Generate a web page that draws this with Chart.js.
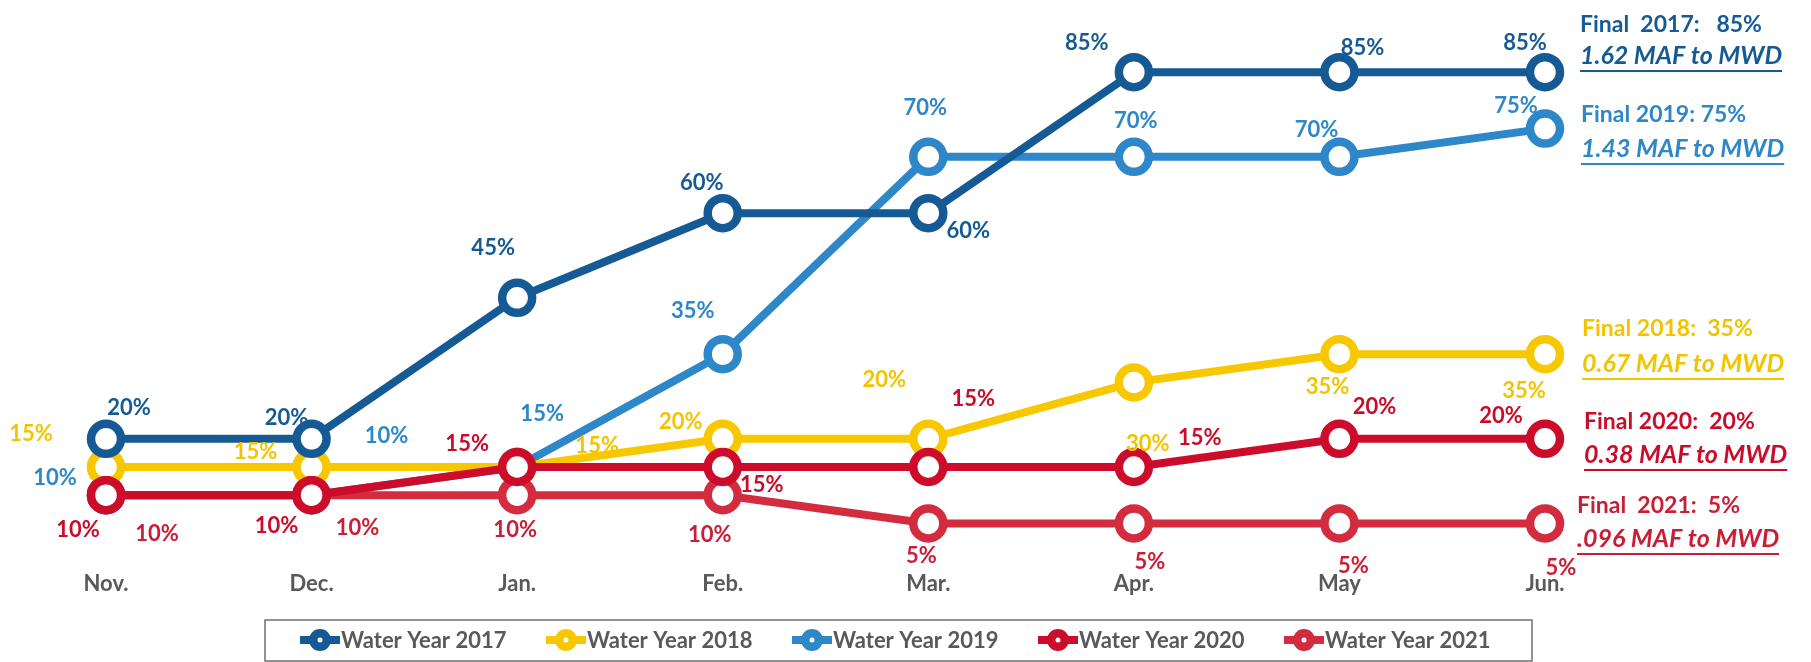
<!DOCTYPE html>
<html>
<head>
<meta charset="utf-8">
<script src="https://cdn.jsdelivr.net/npm/chart.js@4"></script>
<style>
  html, body { margin: 0; padding: 0; background: #fff; }
  #wrap { width: 1811px; height: 662px; position: relative; }
</style>
</head>
<body>
<div id="wrap"><canvas id="allocationChart"></canvas></div>
<script>
const months = ['Nov.', 'Dec.', 'Jan.', 'Feb.', 'Mar.', 'Apr.', 'May', 'Jun.'];
const wy2017 = [20, 20, 45, 60, 60, 85, 85, 85];
const wy2018 = [15, 15, 15, 20, 20, 30, 35, 35];
const wy2019 = [10, 10, 15, 35, 70, 70, 70, 75];
const wy2020 = [10, 10, 15, 15, 15, 15, 20, 20];
const wy2021 = [10, 10, 10, 10, 5, 5, 5, 5];
const seriesNames = ['Water Year 2017', 'Water Year 2018', 'Water Year 2019', 'Water Year 2020', 'Water Year 2021'];
const finalLines = ['Final  2017:   85%', 'Final 2018:  35%', 'Final 2019: 75%', 'Final 2020:  20%', 'Final  2021:  5%'];
const mafLines = ['1.62 MAF to MWD', '0.67 MAF to MWD', '1.43 MAF to MWD', '0.38 MAF to MWD', '.096 MAF to MWD'];

// colours and label placement (style only)
const colors = ['#155a94', '#f7c800', '#2e87c8', '#cc0c2a', '#d22c3e'];
const labelColors = ['#155a94', '#f2c400', '#2e87c8', '#c80c2a', '#c81e36'];
const drawOrder = [1, 4, 5, 2, 3];
const labelOffsets = [
    [[23, -31], [-25, -21], [-24, -50], [-21, -30], [40, 18], [-47, -29], [23, -24], [-20, -29]],
    [[-75, -33], [-56, -15], [80, -21], [-42, -17], [-44, -59], [14, 62], [-12, 33], [-21, 37]],
    [[-51, -17], [75, -59], [25, -53], [-30, -43], [-3, -49], [2, -36], [-23, -27], [-29, -23]],
    [[-28, 35], [-35, 31], [-50, -23], [39, 18], [45, -68], [66, -29], [35, -32], [-44, -23]],
    [[51, 39], [46, 33], [-2, 35], [-13, 40], [-7, 33], [16, 39], [14, 43], [16, 45]]
];
const notePos = [
    { x: 1580, y1: 25, y2: 56 },
    { x: 1582, y1: 329, y2: 364 },
    { x: 1581, y1: 115, y2: 149 },
    { x: 1584, y1: 422, y2: 455 },
    { x: 1577, y1: 506, y2: 539 }
];

const FONT = 'Lato, "Open Sans", sans-serif';
const allSeries = [wy2017, wy2018, wy2019, wy2020, wy2021];

const pointLabels = {
    id: 'pointLabels',
    afterDatasetsDraw(chart) {
        const ctx = chart.ctx;
        ctx.save();
        ctx.font = 'bold 22px ' + FONT;
        ctx.textAlign = 'center';
        ctx.textBaseline = 'middle';
        chart.data.datasets.forEach((ds, i) => {
            const meta = chart.getDatasetMeta(i);
            ctx.fillStyle = labelColors[i];
            meta.data.forEach((pt, j) => {
                const off = labelOffsets[i][j];
                ctx.fillText(ds.data[j] + '%', pt.x + off[0], pt.y + off[1]);
            });
        });
        ctx.restore();
    }
};

const sideNotes = {
    id: 'sideNotes',
    afterDraw(chart) {
        const ctx = chart.ctx;
        ctx.save();
        ctx.textAlign = 'left';
        ctx.textBaseline = 'middle';
        finalLines.forEach((txt, i) => {
            const p = notePos[i];
            ctx.fillStyle = labelColors[i];
            ctx.font = 'bold 23px ' + FONT;
            ctx.fillText(txt, p.x, p.y1);
            ctx.font = 'italic bold 25px ' + FONT;
            ctx.fillText(mafLines[i], p.x, p.y2);
            const w = ctx.measureText(mafLines[i]).width;
            ctx.fillRect(p.x, p.y2 + 14, w, 2);
        });
        ctx.restore();
    }
};

const boxLegend = {
    id: 'boxLegend',
    afterDraw(chart) {
        const ctx = chart.ctx;
        ctx.save();
        ctx.strokeStyle = '#6f6f6f';
        ctx.lineWidth = 1.5;
        ctx.strokeRect(265, 620, 1267, 41);
        ctx.font = 'bold 22px ' + FONT;
        ctx.textAlign = 'left';
        ctx.textBaseline = 'middle';
        const cy = 640;
        seriesNames.forEach((name, i) => {
            const cx = 320 + i * 246;
            ctx.strokeStyle = colors[i];
            ctx.lineWidth = 8;
            ctx.beginPath();
            ctx.moveTo(cx - 20, cy);
            ctx.lineTo(cx + 20, cy);
            ctx.stroke();
            ctx.fillStyle = colors[i];
            ctx.beginPath();
            ctx.arc(cx, cy, 11, 0, Math.PI * 2);
            ctx.fill();
            ctx.fillStyle = '#fff';
            ctx.beginPath();
            ctx.arc(cx, cy, 2.5, 0, Math.PI * 2);
            ctx.fill();
            ctx.fillStyle = '#595959';
            ctx.fillText(name, cx + 21, cy + 1);
        });
        ctx.restore();
    }
};

const ctx = document.getElementById('allocationChart');

new Chart(ctx.getContext('2d'), {
    type: 'line',
    data: {
        labels: months,
        datasets: allSeries.map((vals, i) => ({
            label: seriesNames[i],
            data: vals,
            order: drawOrder[i],
            borderColor: colors[i],
            backgroundColor: colors[i],
            borderWidth: 8,
            tension: 0,
            fill: false,
            pointRadius: 15,
            pointHoverRadius: 15,
            pointBorderWidth: 8.5,
            pointBackgroundColor: '#ffffff',
            pointBorderColor: colors[i]
        }))
    },
    options: {
        responsive: true,
        maintainAspectRatio: false,
        animation: false,
        clip: false,
        layout: {
            padding: { left: 106, right: 266, top: 44, bottom: 46 }
        },
        plugins: {
            legend: { display: false },
            tooltip: { enabled: false }
        },
        scales: {
            y: {
                display: false,
                min: 0,
                max: 90
            },
            x: {
                grid: { display: false, drawTicks: false },
                border: { display: false },
                ticks: {
                    color: '#595959',
                    padding: 19,
                    font: { family: FONT, size: 22, weight: 'bold' }
                }
            }
        }
    },
    plugins: [pointLabels, sideNotes, boxLegend]
});
</script>
</body>
</html>
